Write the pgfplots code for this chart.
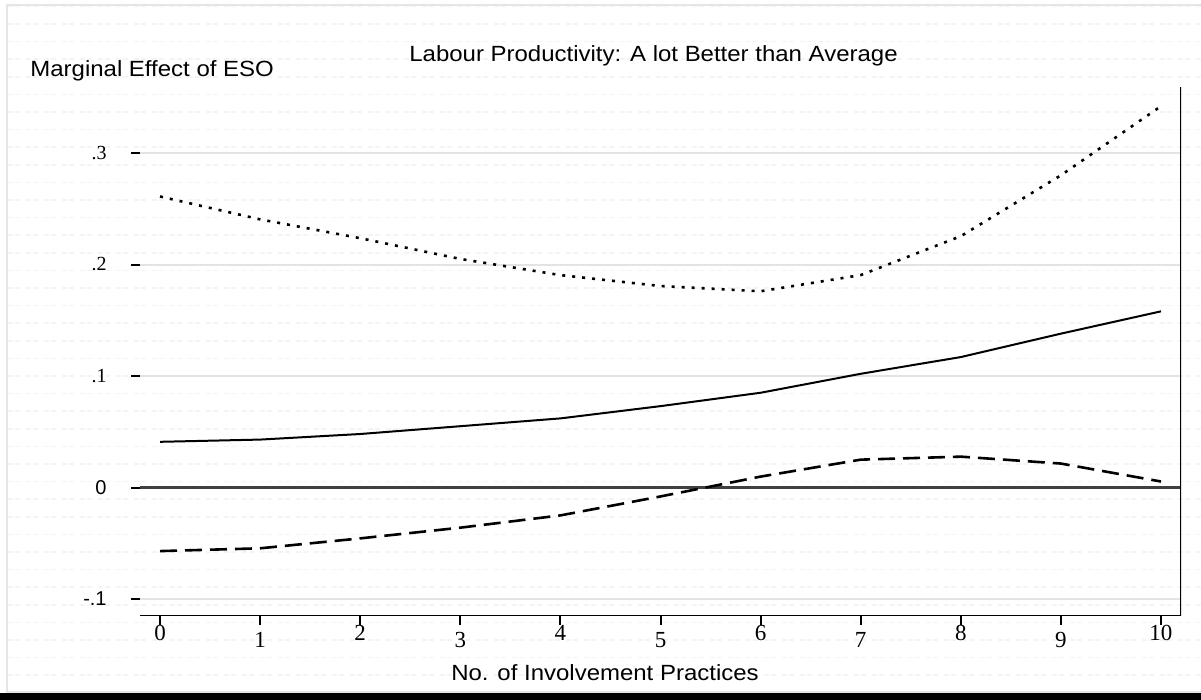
\documentclass[border=0pt]{standalone}
\usepackage{fontspec}
\setmainfont{Liberation Sans}
\newfontfamily\lserif{Liberation Serif}
\usepackage{graphicx}
\usepackage{pgfplots}
\pgfplotsset{compat=1.18}
\newcommand\lo[1]{\raisebox{-3.5pt}[\height][0pt]{#1}}
\newcommand\sx[1]{\scalebox{1.09}[1]{#1}}
\begin{document}
\begin{tikzpicture}[x=0.5pt,y=0.5pt]
\path[use as bounding box] (0,0) rectangle (1201,700);
\clip (0,0) rectangle (1201,700);
\fill[white] (0,0) rectangle (1201,700);
\foreach \k in {0,...,38} {
  \draw[gray!9, line width=0.8pt, dash pattern=on 2.5pt off 1pt on 2.5pt off 3pt] (8,{700-(6.4+17.6*\k)}) -- (1201,{700-(6.4+17.6*\k)});
}
\draw[gray!20, line width=1pt] (1210,8) -- (7,8) -- (7,695) -- (1210,695);
\fill[black] (0,0) rectangle (1201,7);

\begin{axis}[
  at={(70pt,42pt)}, anchor=south west,
  scale only axis, width=520.5pt, height=264.5pt,
  xmin=-0.2, xmax=10.2, ymin=-0.1152, ymax=0.3592,
  axis line style={draw=none},
  xtick={0,...,10}, ytick={-0.1,0,0.1,0.2,0.3},
  xticklabels={0,\lo{1},2,\lo{3},4,\lo{5},6,\lo{7},8,\lo{9},10},
  yticklabels={{-.1},{0},{\lserif .1},{\lserif .2},{\lserif .3}},
  tick align=outside, major tick length=4.5pt, tick pos=left,
  tick style={black, line width=1pt},
  ymajorgrids, grid style={gray!22, line width=1pt},
  xticklabel style={font=\lserif\fontsize{11.5}{12}\selectfont, inner sep=0pt, anchor=north},
  yticklabel style={font=\fontsize{10}{12}\selectfont, inner sep=0pt, anchor=east, xshift=-12pt},
]
\draw[black!75, line width=1.2pt] (axis cs:-0.2,0) -- (axis cs:10.2,0);
\addplot[black, line width=1pt] coordinates {(0,0.041) (1,0.043) (2,0.048) (3,0.055) (4,0.062) (5,0.073) (6,0.085) (7,0.102) (8,0.117) (9,0.138) (10,0.158)};
\addplot[black, line width=1.3pt, dash pattern=on 1.5pt off 3.5pt] coordinates {(0,0.261) (1,0.2405) (2,0.2236) (3,0.205) (4,0.1905) (5,0.1807) (6,0.176) (7,0.1905) (8,0.2254) (9,0.280) (10,0.342)};
\addplot[black, line width=1.3pt, dash pattern=on 8.5pt off 4pt] coordinates {(0,-0.057) (1,-0.0545) (2,-0.0456) (3,-0.036) (4,-0.025) (5,-0.008) (6,0.0098) (7,0.025) (8,0.0277) (9,0.0215) (10,0.0054)};
\draw[black, line width=0.7pt] (rel axis cs:0,0) -- (rel axis cs:1,0) -- (rel axis cs:1,1);
\end{axis}

\node[anchor=base west, inner sep=0pt] at (30,623) {\fontsize{11}{13}\selectfont\sx{Marginal Effect of ESO}};
\node[anchor=base, inner sep=0pt] at (653.5,638) {\fontsize{11}{13}\selectfont\sx{Labour Productivity: A lot Better than Average}};
\node[anchor=base, inner sep=0pt] at (605,19) {\fontsize{11}{13}\selectfont\sx{No. of Involvement Practices}};
\end{tikzpicture}
\end{document}
